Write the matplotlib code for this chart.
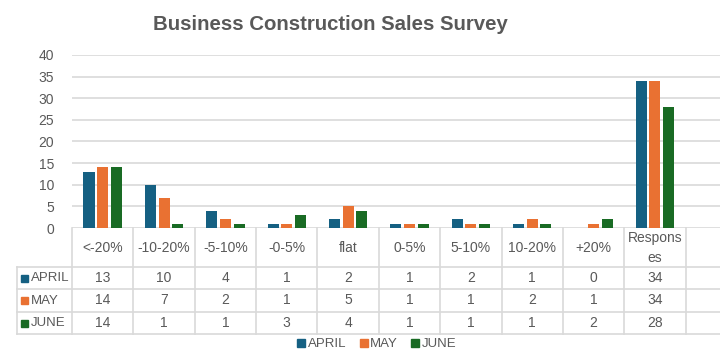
import matplotlib.pyplot as plt
import matplotlib.transforms as mtransforms
from matplotlib.lines import Line2D
from matplotlib.patches import Rectangle

plt.rcParams['font.family'] = ['Liberation Sans', 'DejaVu Sans']

# data
categories = ["<-20%", "-10-20%", "-5-10%", "-0-5%", "flat", "0-5%",
              "5-10%", "10-20%", "+20%", "Respons\nes"]
april = [13, 10, 4, 1, 2, 1, 2, 1, 0, 34]
may = [14, 7, 2, 1, 5, 1, 1, 2, 1, 34]
june = [14, 1, 1, 3, 4, 1, 1, 1, 2, 28]
series_names = ["APRIL", "MAY", "JUNE"]
colors = ["#156082", "#E97132", "#196B24"]

W, H = 720, 360
txt = "#595959"
grid = "#D9D9D9"


def fy(py):
    return 1 - py / H


fig = plt.figure(figsize=(7.2, 3.6), dpi=100)
ax = fig.add_axes([72 / W, fy(228), 675 / W, (228 - 55) / H])

x = list(range(len(categories)))
width = 0.18
step = 0.223
for k, (vals, c) in enumerate(zip([april, may, june], colors)):
    ax.bar([i + (k - 1) * step for i in x], vals, width=width, color=c,
           zorder=3, label=series_names[k])

ax.set_xlim(-0.5, 10.5)
ax.set_ylim(0, 40)
ax.set_yticks(range(0, 41, 5))
ax.yaxis.grid(True, color=grid, lw=1.2)
ax.set_axisbelow(True)
ax.set_xticks([])
ax.tick_params(axis='y', length=0, pad=13, labelsize=10, labelcolor=txt)
for s in ax.spines.values():
    s.set_visible(False)

fig.text(0.459, fy(25), "Business Construction Sales Survey", ha='center',
         va='center', fontsize=14.7, fontweight='bold', color=txt)

# data table under the axis
tr = mtransforms.blended_transform_factory(ax.transData, fig.transFigure)
row_y = [267, 289, 312, 334]
for k in range(len(categories) + 1):
    fig.add_artist(Line2D([k - 0.5, k - 0.5], [fy(228), fy(334)],
                          transform=tr, color=grid, lw=1.2, clip_on=False))
fig.add_artist(Line2D([17 / W, 17 / W], [fy(267), fy(334)], color=grid, lw=1.2))
for yy in row_y:
    fig.add_artist(Line2D([17 / W, 1], [fy(yy), fy(yy)], color=grid, lw=1.2))

for i, cat in enumerate(categories):
    fig.text(i, fy(248), cat, transform=tr, ha='center', va='center',
             fontsize=10, color=txt, linespacing=1.5)
row_mid = [278, 300.5, 323]
for r, (vals, name, c) in enumerate(zip([april, may, june], series_names, colors)):
    ym = row_mid[r]
    fig.add_artist(Rectangle((21 / W, fy(ym + 3.5)), 7 / W, 7 / H,
                             color=c, transform=fig.transFigure))
    fig.text(31 / W, fy(ym), name, ha='left', va='center', fontsize=9.5,
             color=txt)
    for i, v in enumerate(vals):
        fig.text(i, fy(ym), str(v), transform=tr, ha='center', va='center',
                 fontsize=10, color=txt)

handles = [Line2D([], [], marker='s', ls='none', color=c, markersize=6)
           for c in colors]
fig.legend(handles, series_names, loc='center', bbox_to_anchor=(377 / W, fy(344)),
           ncol=3, frameon=False, fontsize=9.5, handlelength=0.6,
           handletextpad=0.2, columnspacing=1.0, labelcolor=txt)

fig.savefig("out.png", dpi=100)
